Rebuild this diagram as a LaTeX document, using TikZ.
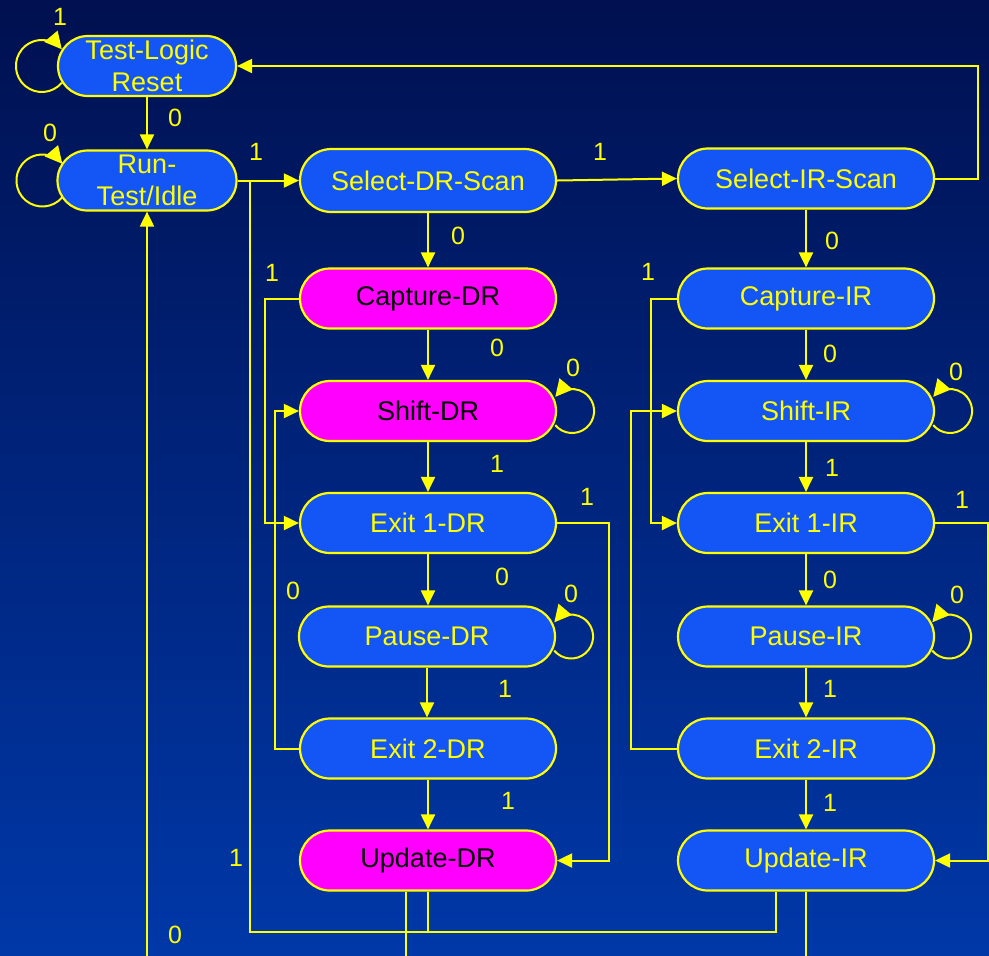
\documentclass[tikz,border=0pt]{standalone}
\usepackage{fontspec}
\setmainfont{Liberation Sans}
\usetikzlibrary{arrows.meta,calc,positioning,shapes.misc}
\definecolor{bgtop}{RGB}{0,16,80}
\definecolor{bgbot}{RGB}{0,56,168}
\definecolor{stfill}{RGB}{20,85,245}
\definecolor{hotfill}{RGB}{255,0,255}
\definecolor{wireyel}{RGB}{255,255,0}
\tikzset{%
	state/.style = {draw=wireyel, line width=1.1pt, fill=stfill, rounded rectangle, minimum width=128pt, minimum height=30pt, inner sep=0pt, text=wireyel, font=\fontsize{13.5}{16}\selectfont, align=center},
	hot/.style   = {state, fill=hotfill, text=black},
	wire/.style  = {draw=wireyel, line width=1pt},
	arr/.style   = {wire, -{Triangle[length=7.5pt,width=7pt]}},
	looparr/.style = {wire, -{Triangle[length=8.5pt,width=8.5pt]}},
	lbl/.style   = {text=wireyel, font=\fontsize{12.5}{14}\selectfont, inner sep=0pt},
}

\begin{document}
\begin{tikzpicture}[x=0.5pt,y=0.5pt]
	\useasboundingbox (0,0) rectangle (989,-955);
	\clip (0,0) rectangle (989,-955);
	\shade[top color=bgtop, bottom color=bgbot] (0,0) rectangle (989,-955);
	
	% states
	\node[state, minimum width=89pt] (tlr) at (147,-66) {Test-Logic\\Reset};
	\node[state, minimum width=89.5pt] (rti) at (147,-180.5) {Run-\\Test/Idle};
	\node[state, minimum height=31.5pt] (seldr) at (428,-180.5) {Select-DR-Scan};
	\node[state] (selir) at (806,-178.5) {Select-IR-Scan};
	\node[hot] (capdr) at (428,-298.5) {Capture-DR};
	\node[state] (capir) at (806,-298.5) {Capture-IR};
	\node[hot] (shiftdr) at (428,-411) {Shift-DR};
	\node[state] (shiftir) at (806,-411) {Shift-IR};
	\node[state] (exit1dr) at (428,-523) {Exit 1-DR};
	\node[state] (exit1ir) at (806,-523) {Exit 1-IR};
	\node[state] (pausedr) at (427,-636.5) {Pause-DR};
	\node[state] (pauseir) at (806,-636.5) {Pause-IR};
	\node[state] (exit2dr) at (428,-748.5) {Exit 2-DR};
	\node[state] (exit2ir) at (806,-748.5) {Exit 2-IR};
	\node[hot] (upddr) at (428,-860.5) {Update-DR};
	\node[state] (updir) at (806,-860.5) {Update-IR};
	
	\coordinate (drjoin) at (250,-180.5);
	\coordinate (drfoot) at ($(upddr.south)+(0,-40.5)$);
	\coordinate (drcut) at (406,-970);
	\coordinate (ircut) at (806,-970);
	\coordinate (rticut) at (147,-970);
	
	% main column
	\draw[arr] (tlr.south) -- (rti.north);
	\draw[arr] (rti.east) -- (seldr.west);
	\draw[arr] (seldr.east) -- (selir.west);
	\draw[arr] (selir.east) -- ++(43,0) |- (tlr.east);
	\draw[arr] (seldr.south) -- (capdr.north);
	\draw[arr] (capdr.south) -- (shiftdr.north);
	\draw[arr] (shiftdr.south) -- (exit1dr.north);
	\draw[arr] (exit1dr.south) -- (exit1dr.south |- pausedr.north);
	\draw[arr] (pausedr.south) -- (pausedr.south |- exit2dr.north);
	\draw[arr] (exit2dr.south) -- (upddr.north);
	\draw[arr] (selir.south) -- (capir.north);
	\draw[arr] (capir.south) -- (shiftir.north);
	\draw[arr] (shiftir.south) -- (exit1ir.north);
	\draw[arr] (exit1ir.south) -- (pauseir.north);
	\draw[arr] (pauseir.south) -- (exit2ir.north);
	\draw[arr] (exit2ir.south) -- (updir.north);
	
	% side paths
	\draw[arr] (capdr.west) -- ++(-34,0) |- (exit1dr.west);
	\draw[arr] (exit2dr.west) -- ++(-24,0) |- (shiftdr.west);
	\draw[arr] (exit1dr.east) -- ++(52,0) |- (upddr.east);
	\draw[arr] (capir.west) -- ++(-26,0) |- (exit1ir.west);
	\draw[arr] (exit2ir.west) -- ++(-46,0) |- (shiftir.west);
	\draw[arr] (exit1ir.east) -- ++(53,0) |- (updir.east);
	
	% update back paths
	\draw[wire] (upddr.south) -- (drfoot) -| (drjoin);
	\draw[wire] ($(updir.south)+(-30,0)$) |- (drfoot);
	\draw[wire] ($(upddr.south)+(-22,0)$) -- (drcut);
	\draw[wire] (updir.south) -- (ircut);
	\draw[arr] (rticut) -- (rti.south);
	
	% self loops
	\draw[looparr] ($(tlr.west)+(-15,0)$) ++(-40:26) arc[start angle=-40, end angle=-320, radius=26];
	\draw[looparr] ($(rti.west)+(-14,0)$) ++(-40:26) arc[start angle=-40, end angle=-320, radius=26];
	\draw[looparr] ($(shiftdr.east)+(15,0)$) ++(220:22) arc[start angle=220, end angle=500, radius=22];
	\draw[looparr] ($(pausedr.east)+(15,0)$) ++(220:22) arc[start angle=220, end angle=500, radius=22];
	\draw[looparr] ($(shiftir.east)+(15,0)$) ++(220:22) arc[start angle=220, end angle=500, radius=22];
	\draw[looparr] ($(pauseir.east)+(14,0)$) ++(220:22) arc[start angle=220, end angle=500, radius=22];
	
	\foreach \px/\py/\t [count=\i] in {60/17/1,175/118/0,50/133/0,256/152/1,600/152/1,458/236/0,832/241/0,272/273/1,648/272/1,497/348/0,830/354/0,573/368/0,956/372/0,497/464/1,832/468/1,587/497/1,962/500/1,502/577/0,830/580/0,293/591/0,571/594/0,957/595/0,505/689/1,830/689/1,508/801/1,830/803/1,236/858/1,175/935/0}
		\node[lbl] (lbl\i) at (\px,-\py) {\t};
\end{tikzpicture}
\end{document}
